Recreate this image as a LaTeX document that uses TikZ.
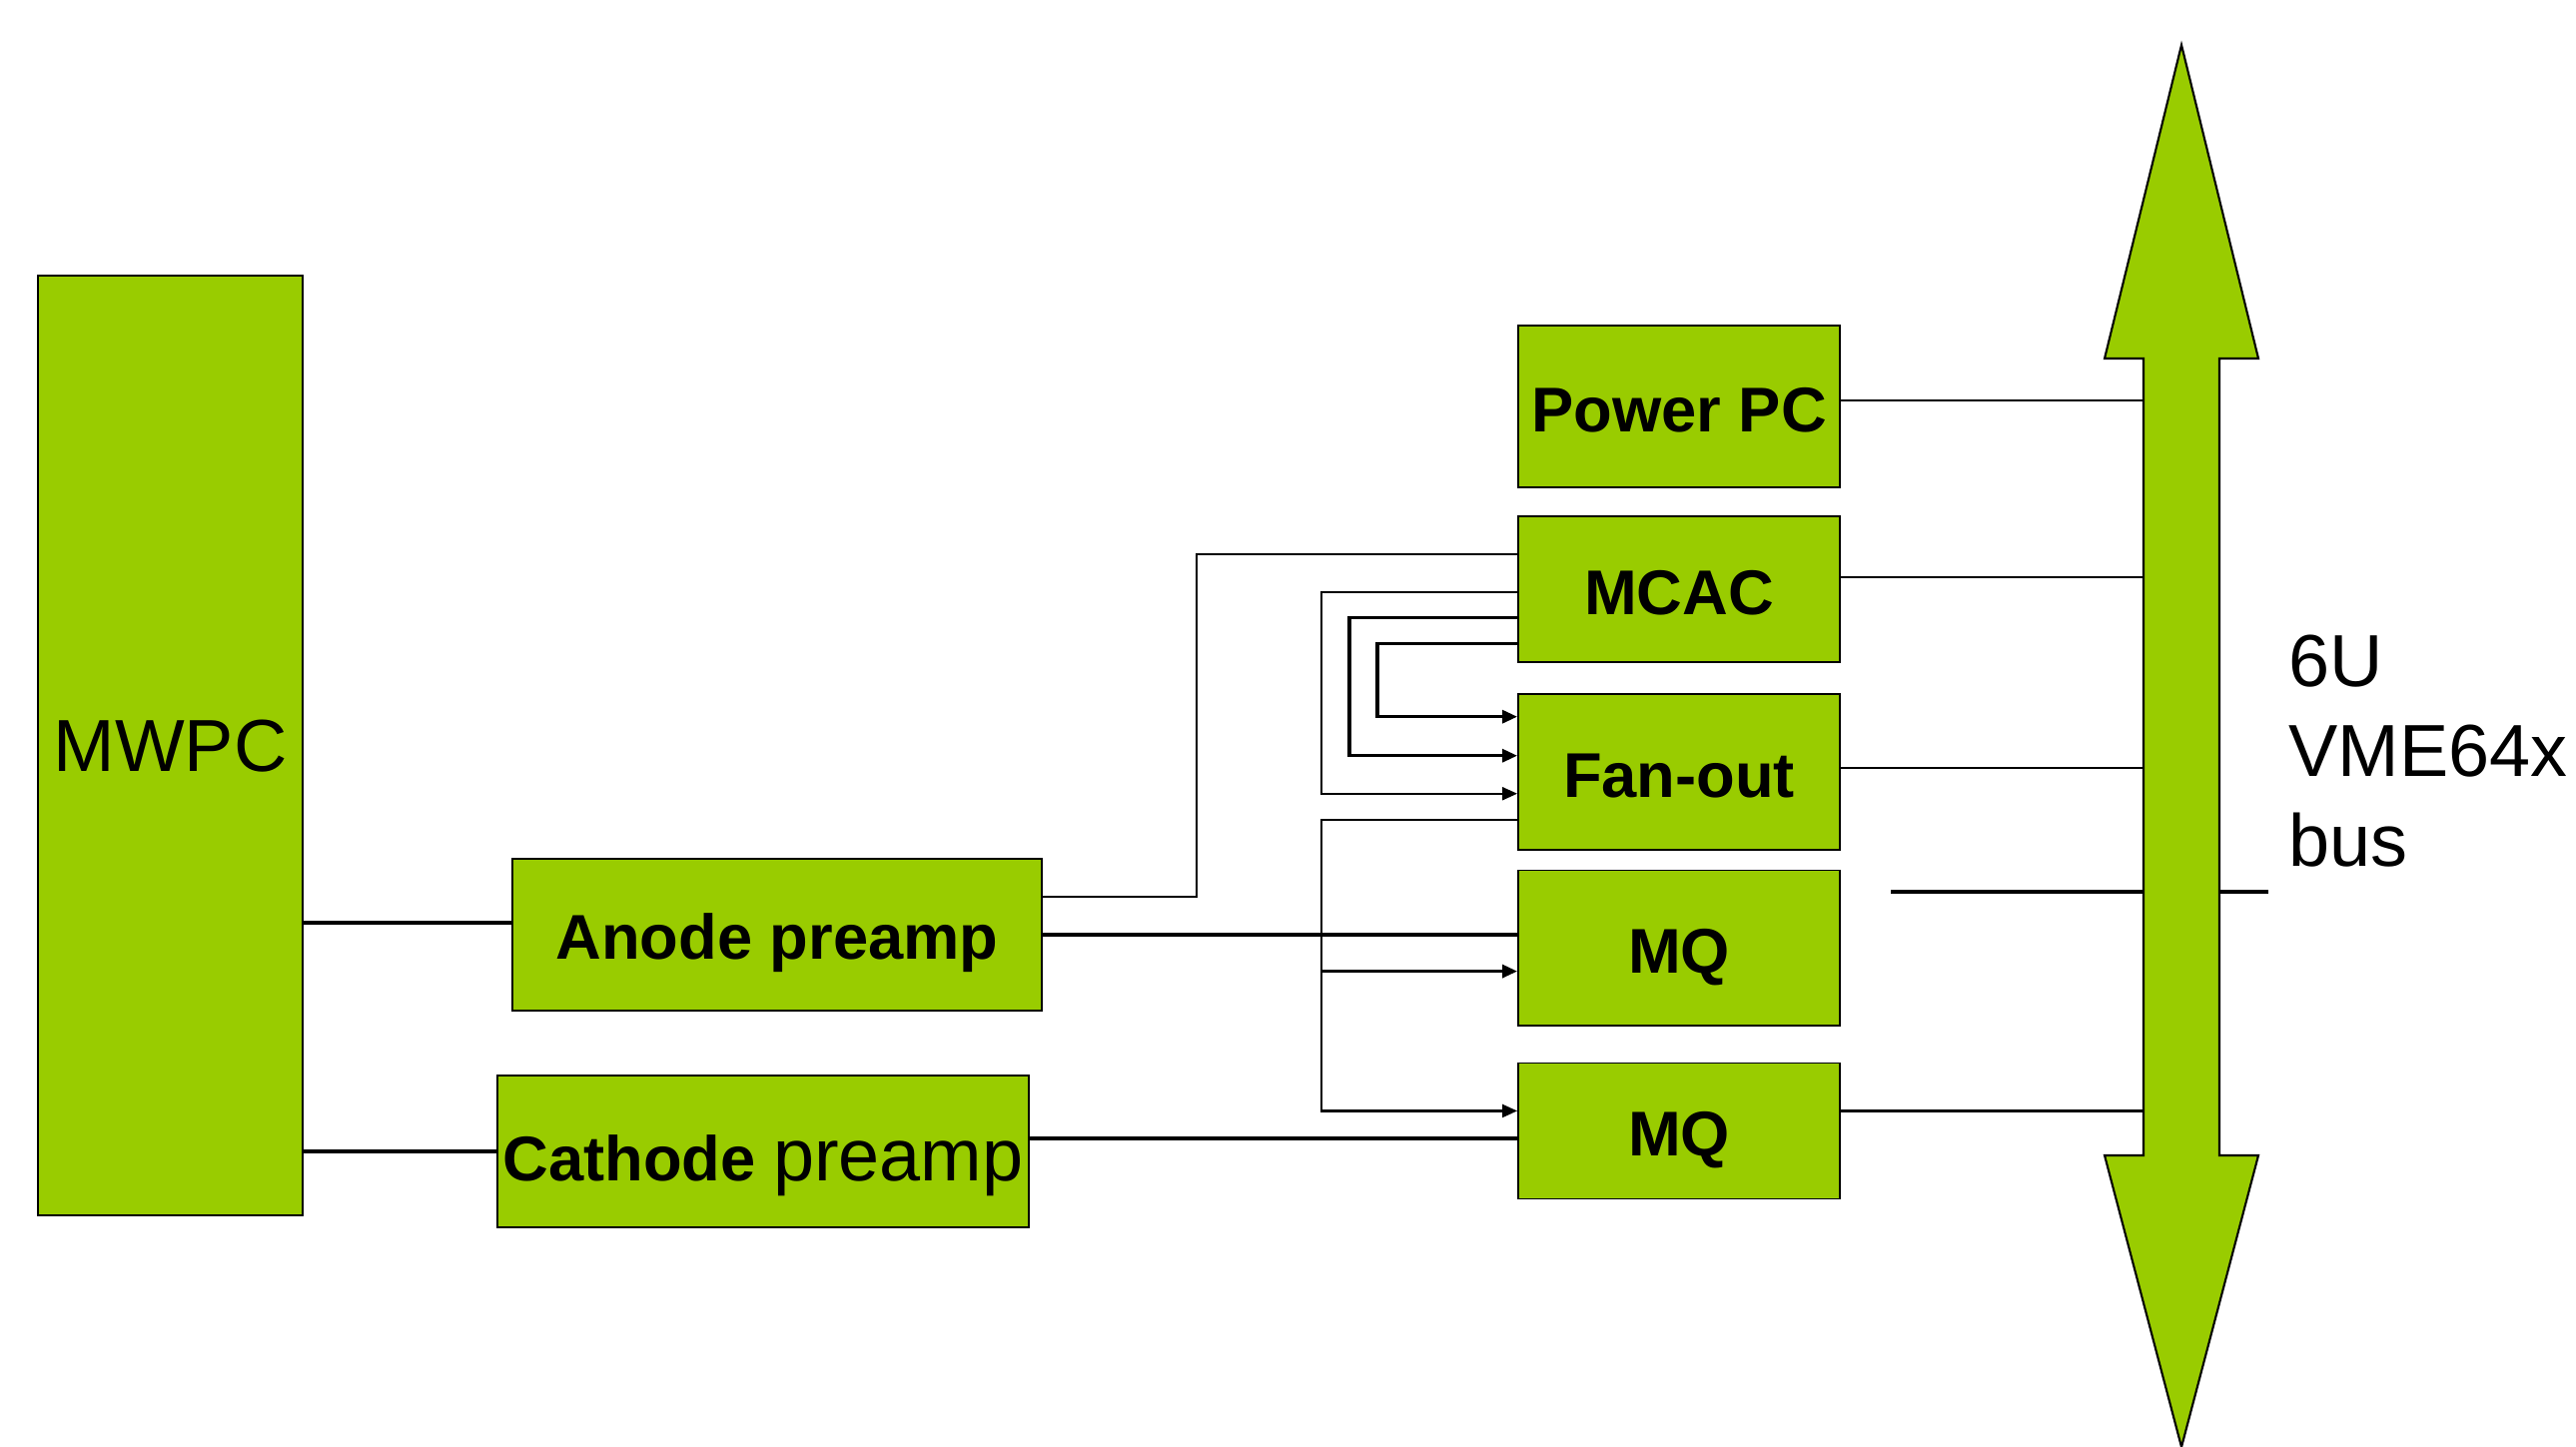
\documentclass[tikz,border=0pt]{standalone}
\usepackage{fontspec}
\setmainfont{Liberation Sans}
\usetikzlibrary{arrows.meta,positioning}
\definecolor{modgreen}{HTML}{99CC00}
\tikzset{
  modbox/.style={
    draw=black,
    fill=modgreen,
    line width=0.5pt,
    inner sep=0pt,
    align=center,
    text depth=0pt,
    font=\fontsize{18}{22}\selectfont\bfseries
  },
  colbox/.style={
    modbox,
    text height=14.5pt,
    minimum width=3.22cm
  },
  wire/.style={line width=0.6pt, draw=black},
  wirebold/.style={line width=1pt, draw=black},
  feed/.style={-{Triangle[length=0.15cm,width=0.13cm]}, line width=0.9pt, draw=black},
  feedthin/.style={feed, line width=0.6pt},
  buslabel/.style={align=left, inner sep=0pt, font=\fontsize{21}{25.7}\selectfont}
}

\begin{document}
\begin{tikzpicture}[x=0.01cm, y=-0.01cm]
  \useasboundingbox (0,0) rectangle (2579,1449);
  % detector and preamps
  \node[modbox, minimum width=2.65cm, minimum height=9.41cm, font=\fontsize{21}{25}\selectfont] (mwpc) at (170.5,746.5) {MWPC};
  \node[modbox, minimum width=5.30cm, minimum height=1.52cm, text height=14pt] (anode) at (778,936) {Anode preamp};
  \node[modbox, minimum width=5.32cm, minimum height=1.52cm, text height=16.5pt] (cathode) at (764,1153) {Cathode {\fontsize{21}{25}\selectfont\mdseries preamp}};
  % crate modules
  \node[colbox, minimum height=1.62cm] (pwrpc) at (1681,407) {Power PC};
  \node[colbox, minimum height=1.46cm, below=0.27cm of pwrpc] (mcac) {MCAC};
  \node[colbox, minimum height=1.56cm, below=0.30cm of mcac] (fanout) {Fan-out};
  \node[colbox, minimum height=1.55cm, below=0.19cm of fanout] (mqa) {MQ};
  \node[colbox, minimum height=1.36cm, below=0.36cm of mqa] (mqb) {MQ};
  \node[buslabel, anchor=west] (buslbl) at (2291,752) {6U\\VME64x\\bus};
  \coordinate (buswest) at (2146,0);
  \coordinate (stubw) at (1893,893);
  \coordinate (stube) at (2271,893);
  % detector to preamps
  \coordinate (anodein) at ([yshift=0.12cm]anode.west);
  \draw[wirebold] (anodein -| mwpc.east) -- (anodein);
  \draw[wirebold] (mwpc.east |- cathode.west) -- (cathode.west);
  % preamps to modules
  \draw[wire] ([yshift=0.38cm]anode.east) -- ++(154,0) |- ([yshift=0.35cm]mcac.west);
  \draw[wirebold] (anode.east) -- (anode.east -| mqa.west);
  \coordinate (cathout) at ([yshift=0.13cm]cathode.east);
  \draw[wirebold] (cathout) -- (cathout -| mqb.west);
  % MCAC to fan-out
  \draw[feedthin] ([yshift=-0.03cm]mcac.west) -- ++(-196,0) |- ([yshift=-0.22cm]fanout.west);
  \draw[feed] ([yshift=-0.29cm]mcac.west) -- ++(-168,0) |- ([yshift=0.16cm]fanout.west);
  \draw[feed] ([yshift=-0.55cm]mcac.west) -- ++(-140,0) |- ([yshift=0.55cm]fanout.west);
  % fan-out to MQ
  \draw[feedthin] ([yshift=-0.48cm]fanout.west) -- ++(-196,0) coordinate (fork) |- ([yshift=0.20cm]mqb.west);
  \coordinate (mqain) at ([yshift=-0.235cm]mqa.west);
  \draw[feed] (mqain -| fork) -- (mqain);
  % bus connections
  \draw[wire] ([yshift=0.06cm]pwrpc.east) -- ([yshift=0.06cm]pwrpc.east -| buswest);
  \draw[wire] ([yshift=0.12cm]mcac.east) -- ([yshift=0.12cm]mcac.east -| buswest);
  \draw[wire] ([yshift=0.04cm]fanout.east) -- ([yshift=0.04cm]fanout.east -| buswest);
  \draw[wire] ([yshift=0.20cm]mqb.east) -- ([yshift=0.20cm]mqb.east -| buswest);
  \draw[wirebold] (stubw) -- (stube);
  % VME bus
  \draw[fill=modgreen, line width=0.6pt] (2184,45) -- (2261,359) -- (2222,359) -- (2222,1157) -- (2261,1157) -- (2184,1449)
    -- (2107,1157) -- (2146,1157) -- (2146,359) -- (2107,359) -- cycle;
\end{tikzpicture}
\end{document}
